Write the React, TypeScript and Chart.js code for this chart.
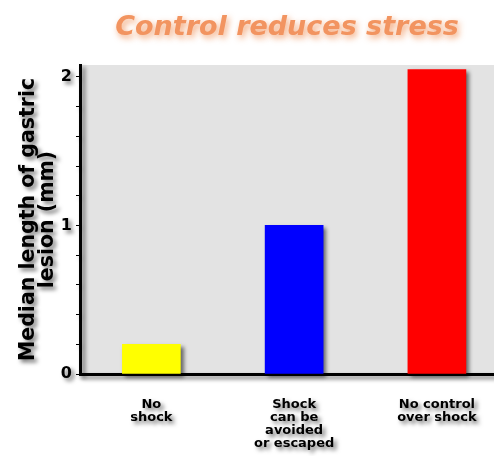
import React, { useEffect, useRef } from 'react';
import { Chart, registerables } from 'chart.js';

Chart.register(...registerables);

const TITLE = 'Control reduces stress';
const Y_TITLE = ['Median length of gastric', 'lesion (mm)'];
const CATEGORIES: string[][] = [
  ['No', 'shock'],
  ['Shock', 'can be', 'avoided', 'or escaped'],
  ['No control', 'over shock'],
];
const VALUES = [0.2, 1.0, 2.05];
const BAR_COLORS = ['#ffff00', '#0000ff', '#ff0000'];
const Y_MIN = 0;
const Y_MAX = 2.08;
const Y_STEP = 0.2;
const X_MAX = 2.9;

const FONT = "'DejaVu Sans', Verdana, sans-serif";
const PLOT_BG = '#e3e3e3';

export default function App() {
  const ref = useRef<HTMLCanvasElement>(null);

  useEffect(() => {
    const shadowPlugin = {
      id: 'bgShadow',
      beforeDraw(chart: any) {
        const { ctx, chartArea: a } = chart;
        ctx.save();
        ctx.fillStyle = PLOT_BG;
        ctx.fillRect(a.left, a.top, a.right - a.left, a.bottom - a.top);
        ctx.restore();
        const tb = chart.titleBlock;
        if (tb && !tb.__patched) {
          const orig = tb.draw.bind(tb);
          tb.draw = (...args: any[]) => {
            ctx.save();
            ctx.shadowColor = 'rgba(235,120,50,0.65)';
            ctx.shadowBlur = 6;
            ctx.shadowOffsetX = 2;
            ctx.shadowOffsetY = 3;
            orig(...args);
            ctx.restore();
          };
          tb.__patched = true;
        }
        ctx.shadowColor = 'rgba(0,0,0,0.55)';
        ctx.shadowBlur = 4;
        ctx.shadowOffsetX = 3;
        ctx.shadowOffsetY = 3;
      },
      afterDraw(chart: any) {
        const { ctx } = chart;
        ctx.shadowColor = 'rgba(0,0,0,0)';
        ctx.shadowBlur = 0;
        ctx.shadowOffsetX = 0;
        ctx.shadowOffsetY = 0;
      },
    };

    const chart = new Chart(ref.current!, {
      type: 'bar',
      data: {
        datasets: [
          {
            data: VALUES.map((v, i) => ({ x: i + 0.5, y: v })),
            backgroundColor: BAR_COLORS,
            borderWidth: 0,
            barThickness: 58,
            clip: false,
          } as any,
        ],
      },
      options: {
        animation: false,
        responsive: true,
        maintainAspectRatio: false,
        layout: { padding: 0 },
        plugins: {
          legend: { display: false },
          tooltip: { enabled: false },
          title: {
            display: true,
            text: TITLE,
            fullSize: false,
            color: '#f29460',
            font: { family: FONT, size: 27, weight: 'bold', style: 'italic', lineHeight: 1.2 },
            padding: { top: 12, bottom: 20.6 },
          },
        },
        scales: {
          x: {
            type: 'linear',
            min: 0,
            max: X_MAX,
            offset: false,
            afterBuildTicks: (s: any) => {
              s.ticks = CATEGORIES.map((_, i) => ({ value: i + 0.5 }));
            },
            afterFit: (s: any) => {
              s.height = 82;
              s.paddingLeft = 0;
              s.paddingRight = 0;
            },
            grid: { display: false, drawTicks: false, tickLength: 0 },
            border: { display: true, color: '#000', width: 3 },
            ticks: {
              autoSkip: false,
              maxRotation: 0,
              minRotation: 0,
              padding: 24.5,
              color: '#000',
              font: { family: FONT, size: 13, weight: 'bold', lineHeight: 1.0 },
              callback: (_v: any, i: number) => CATEGORIES[i],
            },
          },
          y: {
            type: 'linear',
            min: Y_MIN,
            max: Y_MAX,
            afterFit: (s: any) => {
              s.width = 80;
              s.paddingTop = 0;
              s.paddingBottom = 0;
            },
            grid: { display: true, drawOnChartArea: false, drawTicks: true, tickLength: 4, color: '#000', lineWidth: 1 },
            border: { display: true, color: '#000', width: 3 },
            ticks: {
              stepSize: Y_STEP,
              includeBounds: false,
              autoSkip: false,
              padding: 4,
              color: '#000',
              font: { family: FONT, size: 16, weight: 'bold' },
              callback: (v: any) => {
                const n = Number(v);
                return Math.abs(n - Math.round(n)) < 1e-6 ? String(Math.round(n)) : '';
              },
            },
            title: {
              display: true,
              text: Y_TITLE,
              color: '#000',
              font: { family: FONT, size: 20.5, weight: 'bold', lineHeight: 0.93 },
              padding: { top: 19, bottom: 0 },
            },
          },
        },
      } as any,
      plugins: [shadowPlugin],
    });

    return () => chart.destroy();
  }, []);

  return (
    <div style={{ position: 'fixed', left: 0, top: 0, width: 494, height: 456, background: '#fff' }}>
      <canvas ref={ref} />
    </div>
  );
}
